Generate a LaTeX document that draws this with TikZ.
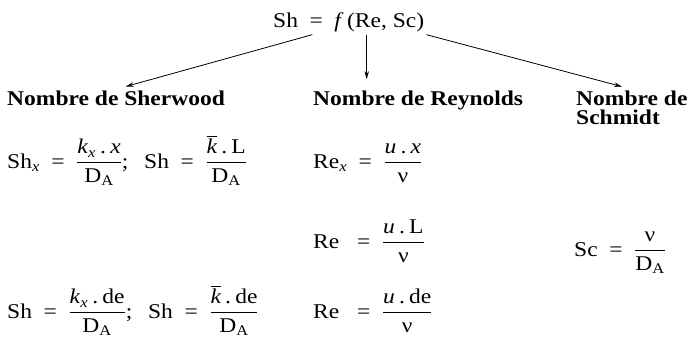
\documentclass[tikz,border=0pt]{standalone}
\usepackage{fontspec}
\usepackage{amsmath}
\setmainfont[FakeStretch=1.12]{Liberation Serif}
\usetikzlibrary{arrows.meta}

\newcommand{\fr}[2]{$\genfrac{}{}{0.9pt}{0}{\text{#1}}{\text{#2}}$}
\newcommand{\eq}{\hspace{0.55em}=\hspace{0.55em}}
\newcommand{\dt}{\hspace{0.2em}.\hspace{0.2em}}
\newcommand{\kb}{$\overline{\text{\itshape k}}$}
\newcommand{\DA}{D\textsubscript{A}}

\begin{document}
\begin{tikzpicture}[x=1pt,y=-1pt,
  every node/.style={inner sep=2pt,font=\fontsize{21}{19}\selectfont},
  formula/.style={anchor=base west},
  header/.style={anchor=base west,font=\fontsize{21}{19}\selectfont\bfseries},
  link/.style={-{Stealth[length=8pt,width=4.5pt]},line width=0.8pt,shorten >=10pt}]
\useasboundingbox (0,0) rectangle (688,342);
\node[formula] (relation) at (271,28) {Sh\eq\textit{f}\,(Re, Sc)};
\node[header] (sherwood) at (5,106) {Nombre de Sherwood};
\node[header] (reynolds) at (311,106) {Nombre de Reynolds};
\node[header,align=left] (schmidt) at (574,125) {Nombre de\\Schmidt};
\node[formula] (shplate) at (5,168) {Sh\textsubscript{\textit{x}}\eq\fr{\textit{k}\textsubscript{\textit{x}}\dt\textit{x}}{\DA};\hspace{0.75em}Sh\eq\fr{\kb\dt L}{\DA}};
\node[formula] (relocal) at (311,168) {Re\textsubscript{\textit{x}}\eq\fr{\textit{u}\dt\textit{x}}{ν}};
\node[formula] (replate) at (311,248) {Re\hspace{0.3em}\eq\fr{\textit{u}\dt L}{ν}};
\node[formula] (schmidtdef) at (572,256) {Sc\eq\fr{ν}{\DA}};
\node[formula] (shtube) at (5,318) {Sh\eq\fr{\textit{k}\textsubscript{\textit{x}}\dt de}{\DA};\hspace{0.75em}Sh\eq\fr{\kb\dt de}{\DA}};
\node[formula] (retube) at (311,318) {Re\hspace{0.3em}\eq\fr{\textit{u}\dt de}{ν}};
\draw[link] (relation.-162) -- (sherwood.north);
\draw[link] ([xshift=18pt]relation.south) -- ([xshift=18pt]relation.south |- reynolds.north);
\draw[link] (relation.south east) -- (schmidt.north);
\end{tikzpicture}
\end{document}
